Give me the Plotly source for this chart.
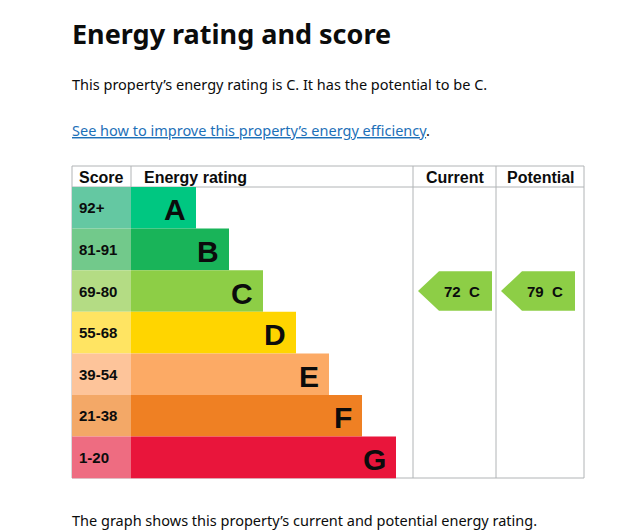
import plotly.graph_objects as go

bands = ["A", "B", "C", "D", "E", "F", "G"]
scores = ["92+", "81-91", "69-80", "55-68", "39-54", "21-38", "1-20"]
bar_lengths = [65, 98, 132, 165, 198, 231, 265]
bar_colors = ["#00c781", "#19b459", "#8dce46", "#ffd500", "#fcaa65", "#ef8023", "#e9153b"]
score_colors = ["#64c8a2", "#72c98b", "#b4dc84", "#ffe462", "#fdc49a", "#f3a867", "#ee6c81"]
current_score, current_band = 72, "C"
potential_score, potential_band = 79, "C"

top, row_h = 179, 41.6
centers = [top + row_h * (i + 0.5) for i in range(len(bands))]
F = "Liberation Sans"

fig = go.Figure()
# score column
fig.add_trace(go.Bar(orientation="h", y=centers, x=[59] * 7, base=64, width=row_h,
                     marker=dict(color=score_colors, line_width=0), hoverinfo="skip"))
fig.add_trace(go.Bar(orientation="h", y=centers, x=bar_lengths, base=123, width=row_h,
                     marker=dict(color=bar_colors, line_width=0), hoverinfo="skip"))
for i, b in enumerate(bands):
    fig.add_annotation(x=69, y=centers[i], text=f"<b>{scores[i]}</b>", showarrow=False,
                       xanchor="left", font=dict(family=F, size=15, color="#0b0c0c"))
    fig.add_annotation(x=123 + bar_lengths[i] - 8, y=centers[i] + 2, text=f"<b>{b}</b>", showarrow=False,
                       xanchor="right", font=dict(family=F, size=30, color="#0b0c0c"))

def arrow(x0, x1, score, band):
    i = bands.index(band)
    c = centers[i]
    h = row_h / 2 - 1
    xs = [x0, x0 + 21, x1, x1, x0 + 21, x0]
    ys = [c, c - h, c - h, c + h, c + h, c]
    fig.add_trace(go.Scatter(x=xs, y=ys, fill="toself", mode="lines", line_width=0,
                             fillcolor=bar_colors[i], hoverinfo="skip"))
    fig.add_annotation(x=x0 + 24, y=c, text=f"<b>{score}&nbsp; {band}</b>", showarrow=False,
                       xanchor="left", font=dict(family=F, size=15, color="#0b0c0c"))

arrow(410, 484, current_score, current_band)
arrow(493, 567, potential_score, potential_band)

grey = "#b1b4b6"
for x in [64, 123, 405, 488, 576]:
    y0 = 158 if x != 123 else 158
    y1 = 179 if x == 123 else 470
    fig.add_shape(type="line", x0=x, x1=x, y0=y0, y1=y1, line=dict(color=grey, width=1), layer="below")
for y in [158, 179, 470]:
    fig.add_shape(type="line", x0=64, x1=576, y0=y, y1=y, line=dict(color=grey, width=1), layer="below")

heads = [(69, "Score", "left"), (134, "Energy rating", "left"), (447, "Current", "center"), (533, "Potential", "center")]
for x, t, a in heads:
    fig.add_annotation(x=x, y=169, text=f"<b>{t}</b>", showarrow=False, xanchor=a,
                       font=dict(family=F, size=16, color="#0b0c0c"))

P = "Noto Sans"
fig.add_annotation(x=62, y=25, text="<b>Energy rating and score</b>", showarrow=False, xanchor="left",
                   font=dict(family=P, size=27, color="#0b0c0c"))
fig.add_annotation(x=62, y=76, text="This property’s energy rating is C. It has the potential to be C.",
                   showarrow=False, xanchor="left", font=dict(family=P, size=14.5, color="#0b0c0c"))
fig.add_annotation(x=62, y=122, text="<span style='text-decoration:underline'>See how to improve this property’s energy efficiency</span><span style='color:#0b0c0c'>.</span>",
                   showarrow=False, xanchor="left", font=dict(family=P, size=14.5, color="#1d70b8"))
fig.add_annotation(x=62, y=512, text="The graph shows this property’s current and potential energy rating.",
                   showarrow=False, xanchor="left", font=dict(family=P, size=14.5, color="#0b0c0c"))

fig.update_layout(width=620, height=532, margin=dict(l=0, r=0, t=0, b=0), showlegend=False,
                  plot_bgcolor="white", paper_bgcolor="white", barmode="overlay",
                  xaxis=dict(range=[0, 620], visible=False, fixedrange=True),
                  yaxis=dict(range=[532, 0], visible=False, fixedrange=True))
fig.write_html("out.html")
